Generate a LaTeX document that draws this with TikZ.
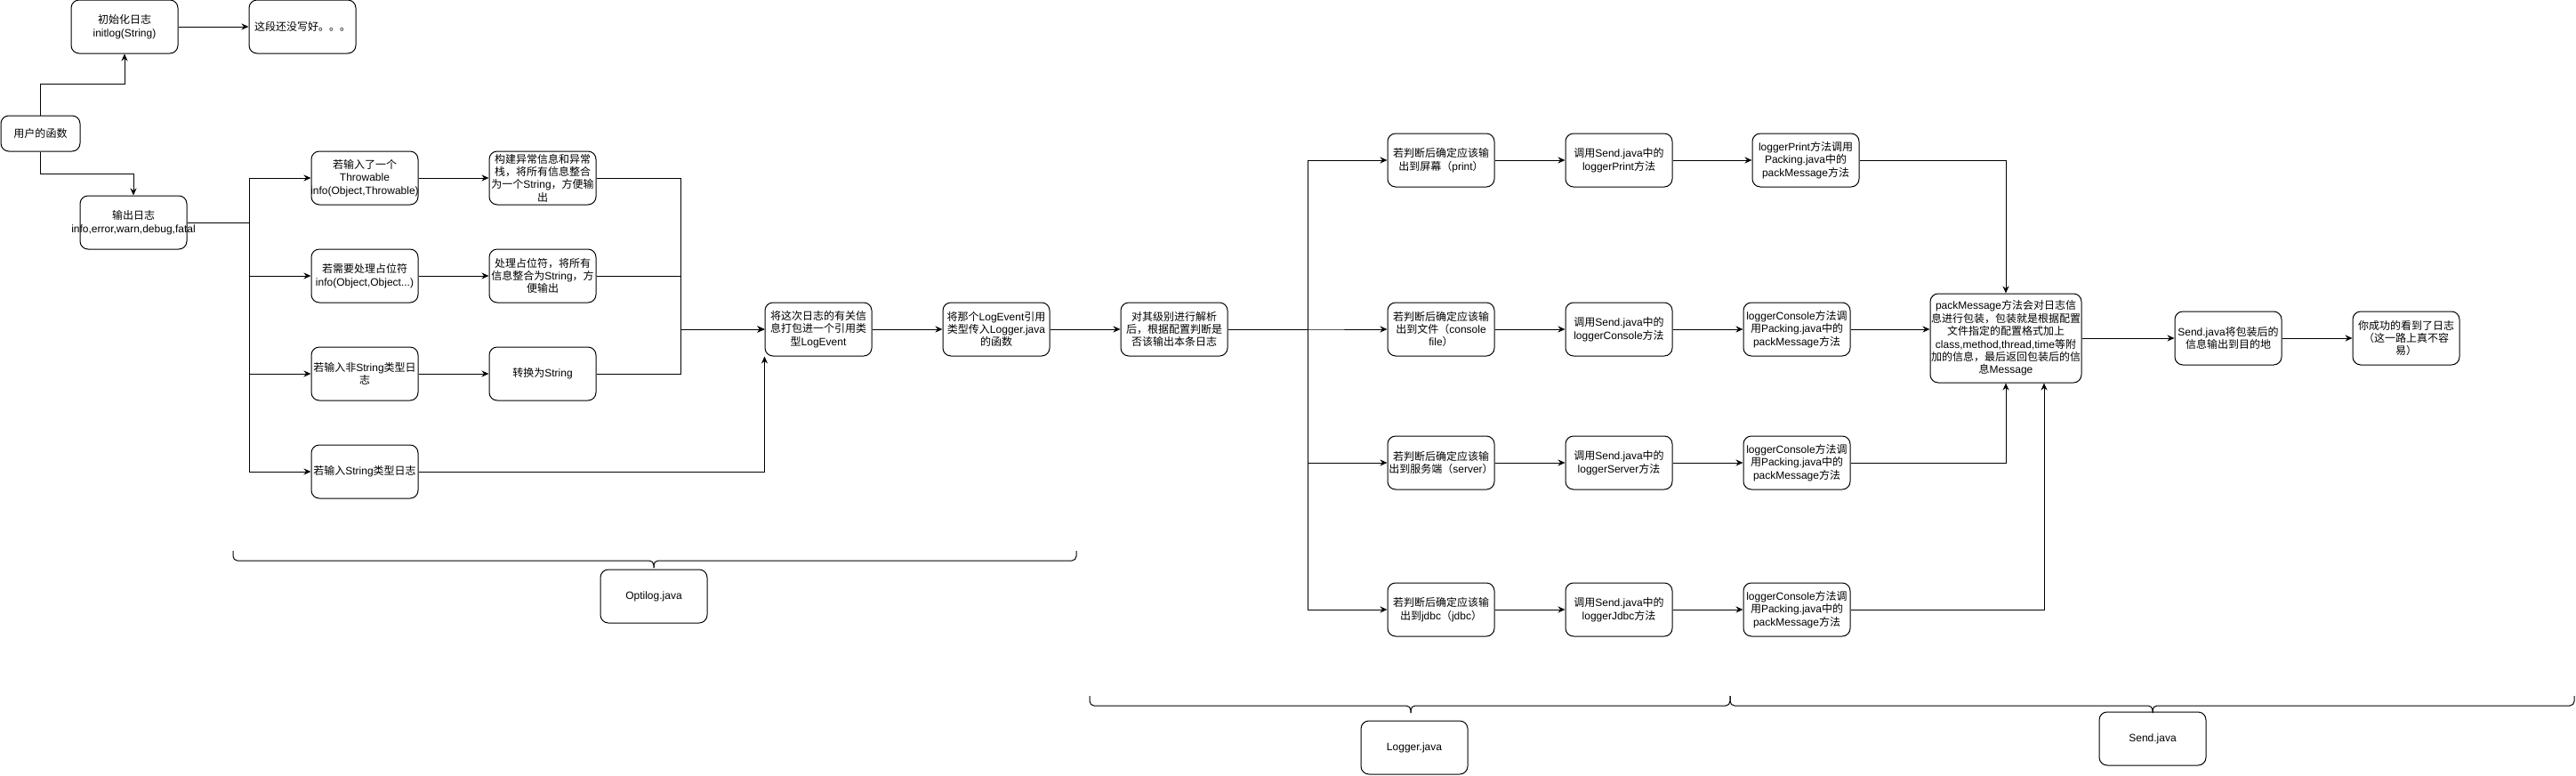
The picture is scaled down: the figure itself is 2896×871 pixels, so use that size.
\documentclass[tikz,border=0pt]{standalone}
\usepackage{fontspec}
\setmainfont{Noto Sans CJK SC}
\newfontfamily\cjkfont{Noto Sans CJK SC}
\newfontfamily\latinfont{Liberation Sans}
\XeTeXinterchartokenstate=1
\newXeTeXintercharclass\CJKcls
\newcount\cjkc
\def\setcjkrange#1#2{\cjkc=#1\relax
  \loop\XeTeXcharclass\cjkc=\CJKcls\relax
  \ifnum\cjkc<#2\relax\advance\cjkc by 1\relax\repeat}
\setcjkrange{"4E00}{"9FFF}
\setcjkrange{"3000}{"303F}
\setcjkrange{"FF00}{"FFEF}
\XeTeXinterchartoks 0 \CJKcls = {\cjkfont}
\XeTeXinterchartoks 4095 \CJKcls = {\cjkfont}
\XeTeXinterchartoks \CJKcls 0 = {\latinfont}
\XeTeXinterchartoks 4095 0 = {\latinfont}
\newcommand\ovl[1]{\makebox[0pt]{#1}}
\usetikzlibrary{arrows.meta,calc}
\begin{document}
\begin{tikzpicture}[x=1pt,y=-1pt,
  box/.style={draw, rounded corners=9pt, minimum width=120pt, minimum height=60pt,
    align=center, inner sep=0pt, font=\fontsize{12}{14.4}\selectfont, line width=1pt},
  arr/.style={-{Stealth[length=8pt,width=7pt]}, line width=1pt},
  bracepath/.style={rounded corners=5pt, line width=1pt}]
\useasboundingbox (0,0) rectangle (2896,871);
% left part
\node[box] (init) at (140,30) {初始化日志\\initlog(String)};
\node[box] (todo) at (340,30) {这段还没写好。。。};
\node[box, minimum width=89pt, minimum height=40pt] (user) at (45.5,150) {用户的函数};
\node[box] (out) at (150,250) {输出日志\\\ovl{info,error,warn,debug,fatal}};
\node[box] (b1) at (410,200) {若输入了一个\\Throwable\\\ovl{info(Object,Throwable)}};
\node[box] (b2) at (410,310) {若需要处理占位符\\info(Object,Object...)};
\node[box] (b3) at (410,420) {若输入非String类型日\\志};
\node[box] (b4) at (410,530) {\ovl{若输入String类型日志}};
\node[box] (c1) at (610,200) {构建异常信息和异常\\栈，将所有信息整合\\为一个String，方便输\\出};
\node[box] (c2) at (610,310) {处理占位符，将所有\\\ovl{信息整合为String，方}\\便输出};
\node[box] (c3) at (610,420) {转换为String};
\node[box] (ev) at (920,370) {将这次日志的有关信\\息打包进一个引用类\\型LogEvent};
\node[box] (pass) at (1120,370) {将那个LogEvent引用\\类型传入Logger.java\\的函数};
\node[box] (lvl) at (1320,370) {对其级别进行解析\\后，根据配置判断是\\否该输出本条日志};
\coordinate (fx) at (280,0);
\coordinate (mx) at (765,0);
\coordinate (bx) at (1470,0);
% right part
\node[box] (d1) at (1620,180) {若判断后确定应该输\\出到屏幕（print）};
\node[box] (d2) at (1620,370) {若判断后确定应该输\\出到文件（console\\file）};
\node[box] (d3) at (1620,520) {若判断后确定应该输\\\ovl{出到服务端（server）}};
\node[box] (d4) at (1620,685) {若判断后确定应该输\\出到jdbc（jdbc）};
\node[box] (e1) at (1820,180) {调用Send.java中的\\loggerPrint方法};
\node[box] (e2) at (1820,370) {调用Send.java中的\\loggerConsole方法};
\node[box] (e3) at (1820,520) {调用Send.java中的\\loggerServer方法};
\node[box] (e4) at (1820,685) {调用Send.java中的\\loggerJdbc方法};
\node[box] (f1) at (2030,180) {loggerPrint方法调用\\Packing.java中的\\packMessage方法};
\node[box] (f2) at (2020,370) {loggerConsole方法调\\用Packing.java中的\\packMessage方法};
\node[box] (f3) at (2020,520) {loggerConsole方法调\\用Packing.java中的\\packMessage方法};
\node[box] (f4) at (2020,685) {loggerConsole方法调\\用Packing.java中的\\packMessage方法};
\node[box, minimum width=170pt, minimum height=100pt] (pack) at (2255,380) {packMessage方法会对日志信\\\ovl{息进行包装，包装就是根据配置}\\文件指定的配置格式加上\\class,method,thread,time等附\\\ovl{加的信息，最后返回包装后的信}\\息Message};
\node[box] (sendout) at (2505,380) {Send.java将包装后的\\信息输出到目的地};
\node[box] (succ) at (2705,380) {你成功的看到了日志\\（这一路上真不容\\易）};
% file labels
\node[box] (opt) at (735,670) {Optilog.java};
\node[box] (loggerj) at (1590,840) {Logger.java};
\node[box] (sendj) at (2420,830) {Send.java};
% connectors
\draw[arr] (user.north) -- ++(0,-35) -| (init.south);
\draw[arr] (user.south) -- ++(0,25) -| (out.north);
\draw[arr] (init.east) -- (todo.west);
\foreach \b in {b1,b2,b3,b4}{\draw[arr] (out.east) -- (out.east -| fx) |- (\b.west);}
\draw[arr] (b1.east) -- (c1.west);
\draw[arr] (b2.east) -- (c2.west);
\draw[arr] (b3.east) -- (c3.west);
\foreach \c in {c1,c2,c3}{\draw[arr] (\c.east) -- (\c.east -| mx) |- (ev.west);}
\draw[arr] (b4.east) -| (ev.south west);
\draw[arr] (ev.east) -- (pass.west);
\draw[arr] (pass.east) -- (lvl.west);
\foreach \d in {d1,d2,d3,d4}{\draw[arr] (lvl.east) -- (lvl.east -| bx) |- (\d.west);}
\draw[arr] (d1.east) -- (e1.west);
\draw[arr] (d2.east) -- (e2.west);
\draw[arr] (d3.east) -- (e3.west);
\draw[arr] (d4.east) -- (e4.west);
\draw[arr] (e1.east) -- (f1.west);
\draw[arr] (e2.east) -- (f2.west);
\draw[arr] (e3.east) -- (f3.west);
\draw[arr] (e4.east) -- (f4.west);
\draw[arr] (f1.east) -| (pack.north);
\draw[arr] (f2.east) -- (f2.east -| pack.west);
\draw[arr] (f3.east) -| (pack.south);
\coordinate (pk4) at ($(pack.south)+(43,0)$);
\draw[arr] (f4.east) -| (pk4);
\draw[arr] (pack.east |- sendout.west) -- (sendout.west);
\draw[arr] (sendout.east) -- (succ.west);
% braces
\draw[bracepath] (262,619) |- (735,630) -- (735,638);
\draw[bracepath] (1210,619) |- (735,630) -- (735,638);
\draw[bracepath] (1225,782) |- (1586,793) -- (1586,801);
\draw[bracepath] (1945,782) |- (1586,793) -- (1586,801);
\draw[bracepath] (1945,782) |- (2420,793) -- (2420,801);
\draw[bracepath] (2894,782) |- (2420,793) -- (2420,801);
\end{tikzpicture}
\end{document}
